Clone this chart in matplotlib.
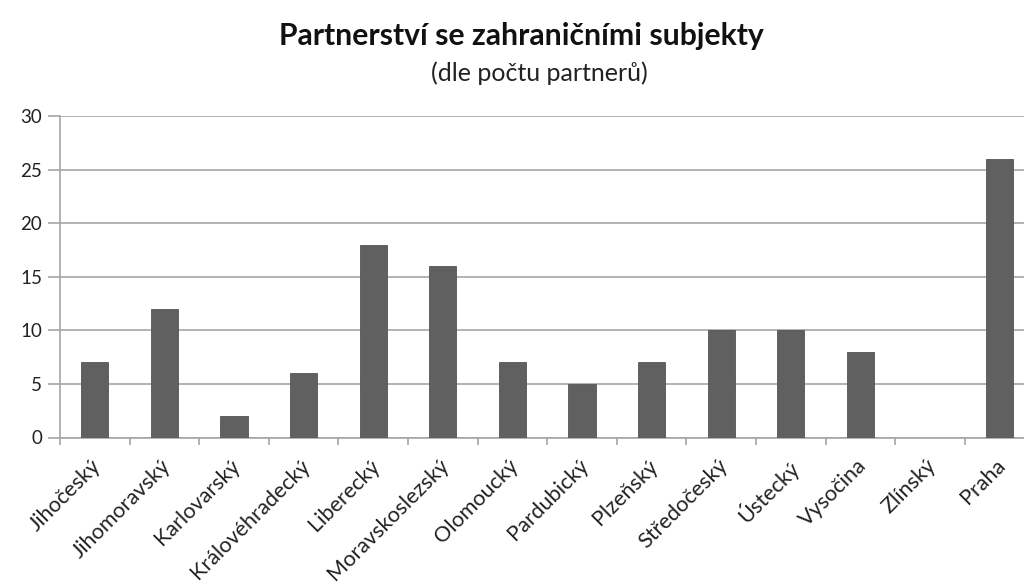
import matplotlib
matplotlib.use("Agg")
import matplotlib.pyplot as plt
import matplotlib.transforms as mtransforms
import numpy as np

categories = ["Jihočeský", "Jihomoravský", "Karlovarský", "Královéhradecký", "Liberecký",
              "Moravskoslezský", "Olomoucký", "Pardubický", "Plzeňský", "Středočeský",
              "Ústecký", "Vysočina", "Zlínský", "Praha"]
values = [7, 12, 2, 6, 18, 16, 7, 5, 7, 10, 10, 8, 0, 26]
yticks = [0, 5, 10, 15, 20, 25, 30]

plt.rcParams['font.family'] = ['Lato', 'DejaVu Sans']

W, H = 1024, 587
fig = plt.figure(figsize=(W/100, H/100), dpi=100)
catw = 69.6
ax = fig.add_axes([60/W, (H-437.5)/H, (14*catw)/W, (437.5-116)/H])

x = np.arange(len(categories))
ax.bar(x, values, width=0.39, color='#606060', edgecolor='#555555', linewidth=0.6, zorder=3)
ax.set_xlim(-0.5, len(categories)-0.5)
ax.set_ylim(0, 30)
ax.set_yticks(yticks)
ylabs = ax.set_yticklabels([str(t) for t in yticks], fontsize=13.5, color='#222222')
ax.yaxis.grid(True, color='#a6a6a6', linewidth=1.2, zorder=0)
ax.set_axisbelow(True)
for s in ['top', 'right']:
    ax.spines[s].set_visible(False)
ax.spines['left'].set_color('#a6a6a6')
ax.spines['bottom'].set_color('#a6a6a6')
ax.spines['left'].set_linewidth(1.2)
ax.spines['bottom'].set_linewidth(1.2)
ax.tick_params(axis='y', length=9, color='#a6a6a6', width=1.2, pad=4)
ax.set_xticks(np.arange(-0.5, len(categories)+0.5, 1), minor=False)
ax.set_xticklabels([])
ax.tick_params(axis='x', length=5, color='#a6a6a6', width=1.2)
ax.set_xticks(x, minor=True)
xlabs = ax.set_xticklabels(categories, minor=True, rotation=45, ha='right', va='top',
                           rotation_mode='anchor', fontsize=12.5, color='#222222')
ax.tick_params(axis='x', which='minor', length=0, pad=8)
off = mtransforms.ScaledTranslation(-4/100, -7/100, fig.dpi_scale_trans)
for t in xlabs:
    t.set_transform(t.get_transform() + off)

title = fig.text(0.509, 0.939, "Partnerství se zahraničními subjekty", ha='center', va='center',
                 fontsize=17, fontweight='bold', color='#111111')
sub = fig.text(0.527, 0.875, "(dle počtu partnerů)", ha='center', va='center',
               fontsize=13, color='#222222')

# scale font sizes so rendered text widths match the reference
fig.canvas.draw()
r = fig.canvas.get_renderer()
def fit(t, target):
    w = t.get_window_extent(r).width
    t.set_fontsize(t.get_fontsize() * target / w)
fit(title, 485)
fit(sub, 216)
ms = xlabs[5].get_window_extent(r).width
fs = xlabs[5].get_fontsize() * 129 / ms
for t in xlabs:
    t.set_fontsize(fs)

fig.savefig("out.png", dpi=100)
